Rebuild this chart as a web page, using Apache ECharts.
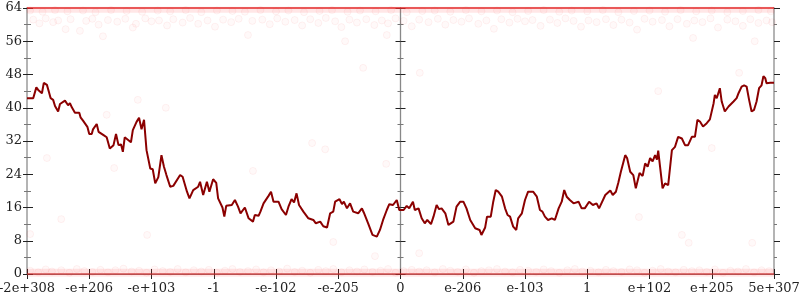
<!DOCTYPE html>
<html><head><meta charset="utf-8">
<script src="https://cdn.jsdelivr.net/npm/echarts@6/dist/echarts.min.js"></script>
<style>html,body{margin:0;padding:0;background:#fff}#c{width:800px;height:300px}</style>
</head><body><div id="c"></div>
<script>
// x tick labels (position index 0..12)
const xTickLabels = ['-2e+308','-e+206','-e+103','-1','-e-102','-e-205','0','e-206','e-103','1','e+102','e+205','5e+307'];
const yMin = 0, yMax = 64, yStep = 8;

// main dark-red trace
const lineX = [0.00,0.10,0.15,0.18,0.21,0.24,0.27,0.32,0.35,0.38,0.42,0.45,0.50,0.53,0.61,0.64,0.66,0.69,0.72,0.77,0.84,0.86,0.90,0.97,1.00,1.04,1.06,1.12,1.15,1.23,1.28,1.33,1.39,1.43,1.47,1.51,1.54,1.57,1.63,1.67,1.70,1.76,1.80,1.84,1.88,1.92,1.98,2.02,2.06,2.11,2.16,2.20,2.24,2.30,2.35,2.38,2.46,2.50,2.57,2.61,2.67,2.75,2.78,2.83,2.89,2.93,2.99,3.04,3.07,3.14,3.17,3.20,3.29,3.34,3.39,3.43,3.50,3.56,3.63,3.66,3.72,3.75,3.80,3.88,3.92,3.96,4.04,4.09,4.16,4.20,4.25,4.29,4.33,4.37,4.44,4.52,4.60,4.64,4.71,4.76,4.82,4.87,4.92,4.95,5.02,5.06,5.09,5.14,5.19,5.24,5.32,5.38,5.41,5.48,5.55,5.62,5.67,5.72,5.78,5.82,5.88,5.94,5.98,6.05,6.10,6.14,6.20,6.23,6.29,6.34,6.39,6.43,6.49,6.53,6.58,6.62,6.66,6.72,6.77,6.85,6.90,6.96,7.01,7.06,7.12,7.20,7.27,7.30,7.36,7.39,7.45,7.49,7.53,7.57,7.63,7.68,7.72,7.76,7.81,7.86,7.89,7.95,8.00,8.05,8.13,8.19,8.24,8.28,8.32,8.37,8.43,8.48,8.54,8.59,8.63,8.67,8.72,8.78,8.86,8.91,8.96,9.03,9.09,9.15,9.19,9.29,9.37,9.41,9.46,9.50,9.54,9.57,9.61,9.64,9.69,9.74,9.78,9.84,9.89,9.93,9.97,10.01,10.05,10.09,10.12,10.14,10.17,10.21,10.25,10.30,10.36,10.41,10.46,10.52,10.57,10.62,10.68,10.70,10.73,10.77,10.81,10.86,10.92,10.97,11.03,11.05,11.08,11.11,11.13,11.16,11.21,11.27,11.35,11.40,11.43,11.48,11.52,11.56,11.60,11.64,11.68,11.72,11.76,11.80,11.83,11.86,11.88,11.94,12.00];
const lineY = [42.3,42.3,44.9,44.3,44.7,43.5,46.0,45.5,43.9,42.3,41.9,40.4,39.1,40.9,41.7,42.0,40.6,41.1,40.1,38.8,38.8,37.7,36.9,35.4,33.7,33.7,34.8,36.1,34.2,33.4,32.9,30.2,31.0,33.7,31.0,31.2,29.4,32.9,32.2,31.7,34.6,36.6,37.6,34.8,37.1,29.8,25.4,25.2,21.8,23.3,28.6,25.8,23.8,21.0,21.2,20.9,23.8,23.4,19.8,18.2,20.2,21.0,22.2,19.0,22.2,19.8,22.8,21.9,18.2,16.0,13.8,16.4,16.6,17.8,16.2,14.6,16.0,13.4,12.6,14.2,14.0,15.0,17.0,18.8,19.8,17.4,17.4,15.6,14.2,16.2,18.0,17.2,19.4,16.6,15.0,13.4,13.0,12.2,12.6,11.5,11.2,14.6,15.0,17.4,18.0,16.8,17.4,15.8,17.0,15.0,14.6,15.8,14.8,12.2,9.4,9.0,10.6,13.0,15.4,16.8,16.6,17.8,15.4,15.4,16.4,15.8,17.4,15.4,15.8,13.4,12.2,13.0,12.0,13.8,16.6,15.6,15.8,14.6,11.8,12.6,16.2,17.4,17.4,15.8,13.0,11.0,10.6,9.4,11.2,13.8,13.8,17.4,20.2,19.8,18.6,15.8,14.2,13.8,11.4,10.6,13.4,14.6,17.8,19.8,19.8,18.6,15.4,15.0,13.8,13.0,13.4,13.0,15.8,17.4,20.2,18.6,17.8,17.0,17.4,15.8,15.8,17.4,16.6,17.0,15.8,19.0,20.1,19.0,19.8,22.0,24.6,24.3,28.6,27.9,24.6,23.8,20.6,24.3,23.6,26.6,25.8,27.9,27.1,28.6,27.5,29.7,25.8,20.6,21.8,21.4,29.8,30.6,33.0,32.6,31.0,31.0,33.0,33.4,33.0,37.1,36.7,35.5,36.3,37.2,41.1,43.1,42.3,41.9,44.7,41.5,39.1,40.3,41.5,42.3,43.5,45.1,45.4,45.1,41.9,39.1,39.5,41.5,44.7,45.4,47.6,47.1,45.9,46.0,46.0];

// faint dots near the top edge
const topDotsX = [0.1,0.2,0.3,0.42,0.5,0.62,0.7,0.85,0.95,1.05,1.15,1.22,1.3,1.45,1.58,1.7,1.75,1.9,2.0,2.12,2.25,2.35,2.5,2.62,2.75,2.9,3.02,3.15,3.28,3.4,3.55,3.62,3.78,3.9,4.02,4.15,4.3,4.42,4.55,4.68,4.8,4.95,5.05,5.18,5.3,5.45,5.58,5.7,5.8,5.92,6.05,6.18,6.3,6.45,6.6,6.72,6.85,6.98,7.1,7.25,7.38,7.5,7.62,7.75,7.88,8.0,8.12,8.25,8.4,8.52,8.65,8.78,8.9,9.02,9.15,9.3,9.42,9.55,9.68,9.8,9.92,10.05,10.2,10.32,10.45,10.6,10.72,10.85,10.98,11.1,11.25,11.38,11.5,11.62,11.75,11.88,11.97];
const topDotsY = [61.2,60.3,61.5,60.6,61.0,58.9,61.3,58.5,60.9,61.4,60.0,57.2,61.1,60.7,61.4,59.3,60.2,61.5,60.8,61.0,59.8,61.3,60.5,61.6,60.2,61.0,59.5,61.2,60.6,61.4,57.5,60.9,61.2,60.1,61.5,60.7,61.1,59.8,61.3,60.4,61.6,60.8,59.4,61.2,60.5,61.3,59.9,61.0,60.3,61.5,60.9,59.6,61.2,60.6,61.4,60.0,61.1,60.7,61.5,60.2,61.0,59.0,61.3,60.5,61.4,60.8,61.1,59.7,61.2,60.4,61.5,60.9,59.5,61.0,60.6,61.3,59.9,61.2,60.5,58.8,61.4,60.7,61.1,59.6,61.3,60.2,61.0,60.6,61.5,59.3,61.2,60.8,59.7,61.3,60.4,61.0,60.6];
const topEdgeX = [0.05,0.25,0.45,0.65,0.9,1.1,1.35,1.6,1.85,2.1,2.3,2.55,2.8,3.05,3.3,3.5,3.75,4.0,4.2,4.45,4.7,4.9,5.15,5.35,5.6,5.85,6.1,6.35,6.55,6.8,7.05,7.3,7.55,7.8,8.05,8.3,8.55,8.75,9.0,9.25,9.5,9.75,10.0,10.25,10.5,10.75,11.0,11.25,11.5,11.75,11.95];
const topEdgeY = [63.4,63.1,63.5,63.2,63.4,63.0,63.5,63.3,63.1,63.4,63.2,63.5,63.0,63.4,63.3,63.1,63.5,63.2,63.4,63.0,63.3,63.5,63.1,63.4,63.2,63.5,63.0,63.3,63.4,63.1,63.5,63.2,63.4,63.0,63.3,63.5,63.1,63.4,63.2,63.5,63.0,63.3,63.4,63.1,63.5,63.2,63.4,63.0,63.3,63.5,63.2];

// faint dots scattered through the middle
const midDotsX = [1.78,1.28,2.23,0.32,1.40,0.55,1.93,0.05,4.92,5.59,6.30,9.83,10.52,10.63,11.65,4.58,4.79,5.77,3.63,5.40,6.31,5.78,5.11,10.14,11.00,11.44,11.69,10.70];
const midDotsY = [41.9,38.3,40.0,27.9,25.5,13.2,9.4,9.6,7.7,4.3,5.0,13.7,9.4,7.5,7.5,31.5,30.0,26.5,24.8,49.6,48.4,57.5,56.0,44.0,30.3,48.4,56.0,56.8];

// faint dots along the bottom edge
const botDotsX = [0.05,0.18,0.3,0.4,0.55,0.68,0.8,0.92,1.05,1.18,1.3,1.42,1.55,1.68,1.8,1.92,2.05,2.18,2.3,2.42,2.55,2.68,2.8,2.92,3.05,3.18,3.3,3.42,3.55,3.68,3.8,3.92,4.05,4.18,4.3,4.42,4.55,4.68,4.8,4.92,5.05,5.18,5.3,5.42,5.55,5.68,5.8,5.92,6.05,6.18,6.3,6.42,6.55,6.68,6.8,6.92,7.05,7.18,7.3,7.42,7.55,7.68,7.8,7.92,8.05,8.18,8.3,8.42,8.55,8.68,8.8,8.92,9.05,9.18,9.3,9.42,9.55,9.68,9.8,9.92,10.05,10.18,10.3,10.42,10.55,10.68,10.8,10.92,11.05,11.18,11.3,11.42,11.55,11.68,11.8,11.92];
const botDotsY = [0.8,0.4,1.1,0.6,0.9,0.3,1.2,0.7,0.5,1.0,0.4,0.9,1.3,0.6,0.8,0.3,1.1,0.7,0.5,1.2,0.4,0.9,0.6,1.0,0.3,0.8,1.2,0.5,0.7,1.1,0.4,0.9,0.6,1.3,0.5,0.8,0.3,1.0,0.7,1.2,0.4,0.9,0.6,1.1,0.5,0.8,1.2,0.3,0.7,1.0,0.6,0.9,0.4,1.2,0.8,0.5,1.1,0.3,0.7,0.9,1.2,0.6,0.4,1.0,0.8,0.5,1.1,0.7,0.3,0.9,1.2,0.6,0.8,0.4,1.0,0.7,0.5,1.1,0.9,0.3,0.8,1.2,0.6,0.4,1.0,0.7,0.9,0.5,1.1,0.3,0.8,0.6,1.2,0.4,0.9,0.7];

// dense bands of points at the extremes
const bandX = [0, 12];
const bandTopY = [63.6, 63.6];
const bandBotY = [0.3, 0.3];

const zip = (a, b) => a.map((v, i) => [v, b[i]]);
const font = 'DejaVu Serif';
const dotStyle = { color: 'rgba(255,40,40,0.035)', borderColor: 'rgba(230,40,40,0.07)', borderWidth: 1 };

function yAx(extra) {
  return Object.assign({
    type: 'value', min: yMin, max: yMax, interval: yStep,
    splitLine: { show: false },
    axisLabel: { show: false },
    axisLine: { show: false },
    axisTick: { show: true, length: 5, lineStyle: { color: '#222', width: 1 } },
    minorTick: { show: true, splitNumber: 2, length: 3, lineStyle: { color: '#777', width: 1 } }
  }, extra);
}

const chart = echarts.init(document.getElementById('c'), null, { renderer: 'canvas' });
chart.setOption({
  animation: false,
  backgroundColor: '#fff',
  grid: { left: 27, right: 26, top: 8, bottom: 26, containLabel: false, outerBoundsMode: 'none' },
  xAxis: [
    { type: 'value', min: 0, max: 12, interval: 1, position: 'bottom',
      splitLine: { show: false },
      axisLine: { show: true, onZero: false, lineStyle: { color: '#999', width: 1 } },
      axisTick: { show: true, inside: true, length: 5, lineStyle: { color: '#222' } },
      axisLabel: { show: true, margin: 8, fontFamily: font, fontSize: 13, color: '#222',
        showMinLabel: true, showMaxLabel: true, hideOverlap: false,
        formatter: v => xTickLabels[Math.round(v)] } },
    { type: 'value', min: 0, max: 12, interval: 1, position: 'bottom',
      splitLine: { show: false }, axisLine: { show: false, onZero: false },
      axisTick: { show: true, inside: false, length: 5, lineStyle: { color: '#222' } },
      axisLabel: { show: false } }
  ],
  yAxis: [
    yAx({ position: 'left', axisLine: { show: true, onZero: false, lineStyle: { color: '#b4b4b4', width: 2 } },
      axisTick: { show: true, inside: false, length: 2, lineStyle: { color: '#222' } },
      minorTick: { show: true, splitNumber: 2, length: 1, lineStyle: { color: '#777' } },
      axisLabel: { show: true, margin: 5, fontFamily: font, fontSize: 13, color: '#222' } }),
    yAx({ position: 'left', axisTick: { show: true, inside: true, length: 6, lineStyle: { color: '#222' } },
      minorTick: { show: true, splitNumber: 2, length: 4, lineStyle: { color: '#777' } } }),
    yAx({ position: 'right', axisLine: { show: true, onZero: false, lineStyle: { color: '#b4b4b4', width: 2 } },
      axisTick: { show: true, inside: false, length: 6, lineStyle: { color: '#222' } },
      minorTick: { show: true, splitNumber: 2, length: 3, lineStyle: { color: '#777' } } }),
    yAx({ position: 'right', axisTick: { show: true, inside: true, length: 4, lineStyle: { color: '#222' } },
      minorTick: { show: true, splitNumber: 2, length: 3, lineStyle: { color: '#777' } } }),
    yAx({ position: 'left', offset: -373.5, axisLine: { show: true, onZero: false, lineStyle: { color: '#888', width: 1.3 } },
      axisTick: { show: true, inside: false, length: 5, lineStyle: { color: '#222' } },
      minorTick: { show: true, splitNumber: 2, length: 3, lineStyle: { color: '#777' } } }),
    yAx({ position: 'left', offset: -373.5, axisTick: { show: true, inside: true, length: 5, lineStyle: { color: '#222' } },
      minorTick: { show: true, splitNumber: 2, length: 3, lineStyle: { color: '#777' } } })
  ],
  series: [
    { type: 'line', data: zip(bandX, bandTopY), showSymbol: false, clip: false, silent: true,
      lineStyle: { color: 'rgba(255,60,60,0.12)', width: 6 }, z: 1 },
    { type: 'line', data: zip(bandX, bandBotY), showSymbol: false, clip: false, silent: true,
      lineStyle: { color: 'rgba(255,60,60,0.12)', width: 8 }, z: 1 },
    { type: 'scatter', data: zip(topDotsX, topDotsY), symbolSize: 7, itemStyle: dotStyle, z: 2 },
    { type: 'scatter', data: zip(topEdgeX, topEdgeY), symbolSize: 7, itemStyle: dotStyle, z: 2 },
    { type: 'scatter', data: zip(midDotsX, midDotsY), symbolSize: 7, itemStyle: dotStyle, z: 2 },
    { type: 'scatter', data: zip(botDotsX, botDotsY), symbolSize: 7, clip: false, itemStyle: dotStyle, z: 2 },
    { type: 'line', data: zip(bandX, [64, 64]), showSymbol: false, clip: false, silent: true,
      lineStyle: { color: 'rgba(225,40,40,0.75)', width: 2 }, z: 3 },
    { type: 'line', data: zip(bandX, [0, 0]), showSymbol: false, clip: false, silent: true,
      lineStyle: { color: 'rgba(200,40,40,0.6)', width: 2 }, z: 3 },
    { type: 'line', data: zip(lineX, lineY), showSymbol: false, smooth: false,
      lineStyle: { color: '#8b0000', width: 2 }, z: 5 }
  ]
});
</script>
</body></html>
